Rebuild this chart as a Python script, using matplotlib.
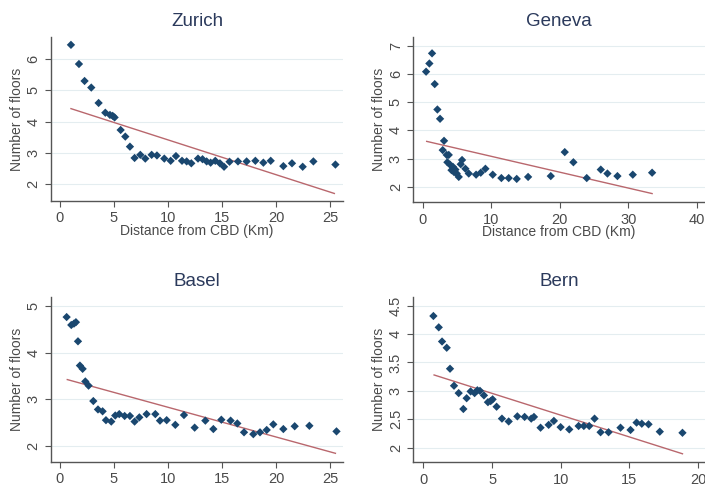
import numpy as np
import matplotlib
matplotlib.use('Agg')
import matplotlib.pyplot as plt

plt.rcParams['font.family'] = ['Liberation Sans', 'DejaVu Sans']

# distance from CBD (km) and mean number of floors
zurich_x = [1.02, 1.76, 2.28, 2.9, 3.58, 4.2, 4.63, 4.88, 5.06, 5.62, 6.05, 6.48, 6.91,
            7.44, 7.9, 8.49, 8.98, 9.66, 10.25, 10.74, 11.3, 11.73, 12.16, 12.78, 13.2,
            13.58, 13.95, 14.38, 14.81, 15.19, 15.7, 16.48, 17.28, 18.09, 18.83, 19.51,
            20.68, 21.48, 22.47, 23.46, 25.5]
zurich_y = [6.44, 5.83, 5.29, 5.08, 4.59, 4.28, 4.21, 4.18, 4.13, 3.73, 3.52, 3.20, 2.84,
            2.94, 2.82, 2.94, 2.92, 2.82, 2.75, 2.90, 2.75, 2.73, 2.67, 2.82, 2.80,
            2.73, 2.69, 2.75, 2.67, 2.56, 2.72, 2.73, 2.73, 2.75, 2.69, 2.75,
            2.58, 2.67, 2.56, 2.73, 2.63]
zurich_fit = ([1.02, 25.4], [4.41, 1.71])

geneva_x = [0.49, 0.97, 1.36, 1.75, 2.14, 2.53, 3.11, 2.92, 3.5, 3.8, 3.6, 4.0, 4.2, 4.4,
            4.57, 4.77, 4.96, 5.26, 5.55, 5.74, 6.23, 6.72, 7.79, 8.47, 9.15, 10.22,
            11.48, 12.55, 13.72, 15.38, 18.69, 20.73, 21.99, 23.94, 25.99, 26.96,
            28.42, 30.66, 33.48]
geneva_y = [6.08, 6.37, 6.73, 5.64, 4.74, 4.41, 3.63, 3.30, 3.13, 3.13, 2.87, 2.78, 2.59,
            2.71, 2.52, 2.61, 2.47, 2.35, 2.80, 2.95, 2.64, 2.47, 2.43, 2.50, 2.64, 2.43,
            2.31, 2.31, 2.28, 2.35, 2.38, 3.23, 2.87, 2.31, 2.61, 2.47,
            2.38, 2.43, 2.50]
geneva_fit = ([0.58, 33.48], [3.61, 1.76])

basel_x = [0.62, 1.05, 1.3, 1.48, 1.67, 1.85, 2.1, 2.35, 2.65, 3.09, 3.52, 3.95, 4.26,
           4.75, 5.12, 5.49, 5.99, 6.48, 6.91, 7.35, 8.02, 8.83, 9.26, 9.88, 10.68,
           11.48, 12.47, 13.46, 14.2, 14.94, 15.8, 16.42, 17.04, 17.9, 18.52, 19.14,
           19.75, 20.68, 21.73, 23.09, 25.6]
basel_y = [4.76, 4.59, 4.62, 4.65, 4.24, 3.72, 3.65, 3.38, 3.29, 2.96, 2.78, 2.74, 2.55,
           2.52, 2.65, 2.68, 2.64, 2.64, 2.52, 2.61, 2.68, 2.68, 2.54, 2.55, 2.45,
           2.66, 2.39, 2.54, 2.36, 2.56, 2.54, 2.48, 2.29, 2.25, 2.29, 2.34,
           2.46, 2.36, 2.42, 2.43, 2.31]
basel_fit = ([0.68, 25.5], [3.42, 1.84])

bern_x = [0.73, 1.12, 1.36, 1.7, 1.94, 2.23, 2.57, 2.91, 3.15, 3.44, 3.73, 3.93, 4.12,
          4.41, 4.7, 4.9, 5.04, 5.33, 5.72, 6.21, 6.84, 7.37, 7.85, 8.05, 8.53, 9.12,
          9.5, 9.99, 10.62, 11.3, 11.68, 12.07, 12.46, 12.9, 13.48, 14.35, 15.08,
          15.52, 15.9, 16.39, 17.21, 18.86]
bern_y = [4.32, 4.12, 3.87, 3.76, 3.39, 3.09, 2.96, 2.68, 2.87, 2.99, 2.96, 3.01, 3.0,
          2.92, 2.80, 2.82, 2.85, 2.72, 2.51, 2.46, 2.55, 2.54, 2.51, 2.54, 2.35, 2.40,
          2.47, 2.36, 2.32, 2.38, 2.38, 2.38, 2.51, 2.27, 2.27, 2.35, 2.31,
          2.44, 2.42, 2.41, 2.28, 2.26]
bern_fit = ([0.78, 18.86], [3.28, 1.89])

dot = '#1a476f'
fitc = '#b9676d'
grey = '#4a4a4a'

fig = plt.figure(figsize=(7.05, 4.86), dpi=100)

panels = [
    ('Zurich', zurich_x, zurich_y, zurich_fit, [0.0723, 0.5864, 0.4142, 0.3375],
     (-0.83, 26.2), (1.47, 6.69), [0, 5, 10, 15, 20, 25], [2, 3, 4, 5, 6], True),
    ('Geneva', geneva_x, geneva_y, geneva_fit, [0.5863, 0.5837, 0.4137, 0.3408],
     (-1.37, 41.2), (1.45, 7.32), [0, 10, 20, 30, 40], [2, 3, 4, 5, 6, 7], True),
    ('Basel', basel_x, basel_y, basel_fit, [0.0723, 0.05, 0.4142, 0.3389],
     (-0.83, 26.2), (1.66, 5.19), [0, 5, 10, 15, 20, 25], [2, 3, 4, 5], False),
    ('Bern', bern_x, bern_y, bern_fit, [0.5863, 0.0488, 0.4137, 0.3395],
     (-0.73, 20.5), (1.74, 4.65), [0, 5, 10, 15, 20], [2, 2.5, 3, 3.5, 4, 4.5], False),
]

for name, xs, ys, fit, pos, xl, yl, xt, yt, show_xlabel in panels:
    ax = fig.add_axes(pos)
    for y in yt:
        ax.axhline(y, color='#e4edf0', lw=0.8, zorder=0)
    ax.plot(fit[0], fit[1], color=fitc, lw=1.0, zorder=2)
    ax.scatter(xs, ys, marker='D', s=18, color=dot, edgecolors='none', zorder=3)
    ax.set_xlim(*xl)
    ax.set_ylim(*yl)
    ax.set_xticks(xt)
    ax.set_yticks(yt)
    ax.set_yticklabels([('%g' % v) for v in yt], rotation=90, va='center')
    for s in ['top', 'right']:
        ax.spines[s].set_visible(False)
    for s in ['left', 'bottom']:
        ax.spines[s].set_color('#555555')
        ax.spines[s].set_linewidth(1.0)
    ax.tick_params(colors='#555555', labelcolor=grey, labelsize=10.5, length=4, width=0.8)
    ax.set_title(name, fontsize=13.5, color='#2b3a5c', pad=8)
    ax.set_ylabel('Number of floors', fontsize=10, color=grey, labelpad=2)
    if show_xlabel:
        ax.set_xlabel('Distance from CBD (Km)', fontsize=10, color=grey, labelpad=-1)

plt.savefig('out.png', dpi=100)
